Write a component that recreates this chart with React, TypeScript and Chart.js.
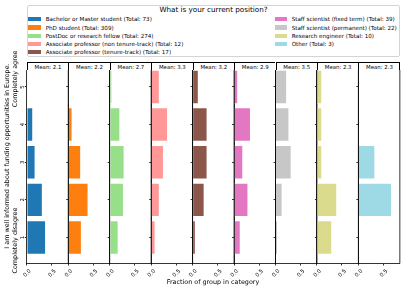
import React, { useEffect, useRef } from "react";
import { Chart, registerables } from "chart.js";

Chart.register(...registerables);

// ---------- data ----------
const categories = [1, 2, 3, 4, 5];
const groups = [
  "Bachelor or Master student",
  "PhD student",
  "PostDoc or research fellow",
  "Associate professor (non tenure-track)",
  "Associate professor (tenure-track)",
  "Staff scientist (fixed term)",
  "Staff scientist (permanent)",
  "Research engineer",
  "Other",
];
const totals = [73, 309, 274, 12, 17, 39, 22, 10, 3];
const means = [2.1, 2.2, 2.7, 3.3, 3.2, 2.9, 3.5, 2.3, 2.3];
const colors = ["#1f77b4", "#ff7f0e", "#98df8a", "#ff9896", "#8c564b", "#e377c2", "#c7c7c7", "#dbdb8d", "#9edae5"];

// fraction of group per answer category 1..5
const bachelor = [0.38, 0.315, 0.17, 0.123, 0.014];
const phd = [0.267, 0.4, 0.253, 0.08, 0.005];
const postdoc = [0.173, 0.28, 0.293, 0.207, 0.047];
const assocNonTenure = [0.083, 0.167, 0.25, 0.333, 0.167];
const assocTenure = [0.059, 0.235, 0.294, 0.294, 0.118];
const staffFixed = [0.128, 0.282, 0.179, 0.333, 0.077];
const staffPermanent = [0.045, 0.136, 0.318, 0.273, 0.227];
const engineer = [0.3, 0.4, 0.1, 0.1, 0.1];
const other = [0, 0.667, 0.333, 0, 0];
const seriesValues = [bachelor, phd, postdoc, assocNonTenure, assocTenure, staffFixed, staffPermanent, engineer, other];

const xTicks = [0, 0.5];
const yTicks = [1, 2, 3, 4, 5];

const titleText = "What is your current position?";
const yLabel1 = "I am well informed about funding opportunities in Europe.";
const yLabelLow = "Completely disagree";
const yLabelHigh = "Completely agree";
const xLabel = "Fraction of group in category";

// ---------- layout ----------
const FONT = "'DejaVu Sans', sans-serif";
const PANEL_LEFT = 26.8;
const PANEL_W = 41.45;
const PANEL_TOP = 70;
const PANEL_BOTTOM = 263.5;
const CANVAS_TOP = 60;
const CANVAS_H = 231;
const CANVAS_W = 72;
const X_MAX = 0.83;
const Y_MIN = 0.31;
const Y_MAX = 5.45;

const framePlugin = {
  id: "frameRight",
  afterDraw(chart: any) {
    const { ctx, chartArea: a } = chart;
    ctx.save();
    ctx.strokeStyle = "#000";
    ctx.lineWidth = 0.8;
    ctx.beginPath();
    ctx.moveTo(a.right, a.top);
    ctx.lineTo(a.right, a.bottom);
    ctx.stroke();
    ctx.restore();
  },
};

function Panel({ index }: { index: number }) {
  const ref = useRef<HTMLCanvasElement>(null);
  const Lp = PANEL_LEFT + index * PANEL_W;
  const C = Math.floor(Lp) - 24;
  useEffect(() => {
    const yW = Lp - C;
    const xH = CANVAS_H - (PANEL_BOTTOM - CANVAS_TOP);
    const values = seriesValues[index];
    const chart = new Chart(ref.current as HTMLCanvasElement, {
      type: "bar",
      data: {
        datasets: [
          {
            data: categories.map((c, i) => ({ x: values[i], y: c })) as any,
            backgroundColor: colors[index],
            borderColor: "#ffffff",
            borderWidth: 0.7,
            barPercentage: 0.9,
            categoryPercentage: 1,
          },
        ],
      },
      options: {
        indexAxis: "y",
        animation: false,
        responsive: false,
        maintainAspectRatio: false,
        devicePixelRatio: 1,
        layout: {
          padding: { top: PANEL_TOP - CANVAS_TOP, right: CANVAS_W - yW - PANEL_W, left: 0, bottom: 0 },
        },
        plugins: { legend: { display: false }, tooltip: { enabled: false }, title: { display: false } },
        scales: {
          x: {
            type: "linear",
            min: 0,
            max: X_MAX,
            afterBuildTicks: (s: any) => {
              s.ticks = xTicks.map((v) => ({ value: v }));
            },
            afterFit: (s: any) => {
              s.height = xH;
            },
            grid: { drawOnChartArea: false, drawTicks: true, tickLength: 2, tickColor: "#000", tickWidth: 0.8, offset: false },
            border: { display: true, color: "#000", width: 0.8 },
            ticks: {
              minRotation: 45,
              maxRotation: 45,
              autoSkip: false,
              labelOffset: 3.5,
              padding: 2.5,
              color: "#000",
              font: { family: FONT, size: 5.4 },
              callback: (v: any) => Number(v).toFixed(1),
            },
          },
          y: {
            type: "linear",
            min: Y_MIN,
            max: Y_MAX,
            offset: false,
            afterBuildTicks: (s: any) => {
              s.ticks = yTicks.map((v) => ({ value: v }));
            },
            afterFit: (s: any) => {
              s.width = yW;
            },
            grid: { drawOnChartArea: false, drawTicks: true, tickLength: 2, tickColor: "#000", tickWidth: 0.8, offset: false },
            border: { display: true, color: "#000", width: 0.8 },
            ticks: {
              display: index === 0,
              minRotation: 90,
              maxRotation: 90,
              autoSkip: false,
              crossAlign: "center",
              padding: 0.5,
              color: "#000",
              font: { family: FONT, size: 5.4 },
              callback: (v: any) => String(v),
            },
          },
        },
      } as any,
      plugins: [framePlugin],
    });
    return () => chart.destroy();
  }, []);
  return (
    <canvas
      ref={ref}
      width={CANVAS_W}
      height={CANVAS_H}
      style={{ position: "absolute", left: C, top: CANVAS_TOP, width: CANVAS_W, height: CANVAS_H }}
    />
  );
}

const LEGEND_ROW0 = 19.3;
const LEGEND_ROW_STEP = 8.25;

function LegendItem({ i }: { i: number }) {
  const leftCol = i < 5;
  const row = leftCol ? i : i - 5;
  const patchX = leftCol ? 28.3 : 275;
  const textX = leftCol ? 45.7 : 291.7;
  const cy = LEGEND_ROW0 + row * LEGEND_ROW_STEP;
  return (
    <>
      <div style={{ position: "absolute", left: patchX, top: cy - 2.2, width: 12.3, height: 4.4, background: colors[i] }} />
      <div
        style={{
          position: "absolute", left: textX, top: cy - 5, height: 10, lineHeight: "10px",
          fontSize: 5.6, fontFamily: FONT, color: "#000", whiteSpace: "nowrap",
        }}
      >
        {`${groups[i]} (Total: ${totals[i]})`}
      </div>
    </>
  );
}

export default function App() {
  return (
    <div
      style={{
        position: "fixed", left: 0, top: 0, width: 407, height: 291, background: "#fff",
        overflow: "hidden", fontFamily: FONT,
      }}
    >
      {/* legend */}
      <div style={{ position: "absolute", left: 26.7, top: 5, width: 373.5, height: 52.3, border: "1px solid #d4d4d4", borderRadius: 2, boxSizing: "border-box" }} />
      <div style={{ position: "absolute", left: 27, width: 373, top: 4, height: 12, lineHeight: "12px", textAlign: "center", fontSize: 7.2, color: "#000", whiteSpace: "nowrap" }}>
        {titleText}
      </div>
      {groups.map((_, i) => <LegendItem key={i} i={i} />)}

      {/* mean boxes */}
      {means.map((m, i) => (
        <div key={"m" + i} style={{
          position: "absolute", left: PANEL_LEFT + i * PANEL_W, top: 61.5, width: PANEL_W + (i === 8 ? 0.6 : 0), height: 8.5,
          borderTop: "0.8px solid #000", borderLeft: "0.8px solid #000", borderRight: i === 8 ? "0.8px solid #000" : "none",
          boxSizing: "border-box", textAlign: "center", fontSize: 5.4, lineHeight: "8px", color: "#000", whiteSpace: "nowrap",
        }}>{`Mean: ${m.toFixed(1)}`}</div>
      ))}

      {groups.map((_, i) => <Panel key={"p" + i} index={i} />)}

      {/* y label */}
      <div style={{
        position: "absolute", left: 7 - 130, top: 156 - 5, width: 260, height: 10, lineHeight: "10px", textAlign: "center",
        fontSize: 6.4, color: "#000", whiteSpace: "nowrap", transform: "rotate(-90deg)", transformOrigin: "50% 50%",
      }}>{yLabel1}</div>
      <div style={{
        position: "absolute", left: 14.5 - 111.5, top: 161.5 - 5, width: 223, height: 10, lineHeight: "10px",
        fontSize: 6.4, color: "#000", whiteSpace: "nowrap", display: "flex", justifyContent: "space-between",
        transform: "rotate(-90deg)", transformOrigin: "50% 50%",
      }}><span>{yLabelLow}</span><span>{yLabelHigh}</span></div>

      {/* x label */}
      <div style={{
        position: "absolute", left: 213 - 80, width: 160, top: 277, height: 10, lineHeight: "10px", textAlign: "center",
        fontSize: 6.4, color: "#000", whiteSpace: "nowrap",
      }}>{xLabel}</div>
    </div>
  );
}
